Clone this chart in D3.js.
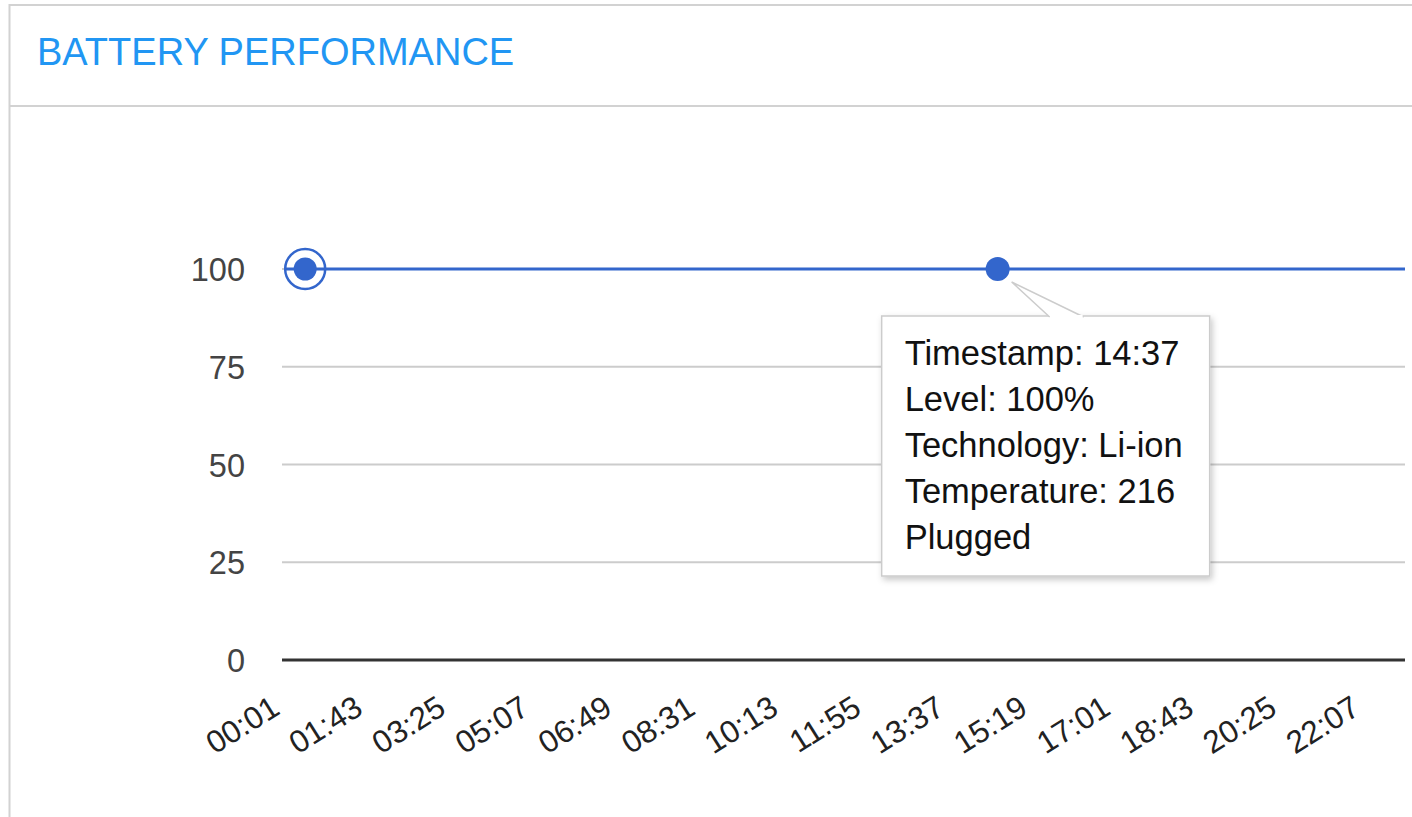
<!DOCTYPE html>
<html>
<head>
<meta charset="utf-8">
<title>Battery Performance</title>
<script src="https://cdn.jsdelivr.net/npm/d3@7"></script>
<style>
  html, body { margin: 0; padding: 0; background: #fff; }
  svg { display: block; font-family: "Liberation Sans", Arial, Helvetica, sans-serif; }
</style>
</head>
<body>
<svg id="chart" width="1412" height="817"></svg>
<script>
// Battery readings over the day (timestamp, level in %)
const timestamps = ["00:01", "00:27", "02:10", "04:45", "07:20", "09:58", "12:31", "14:37", "16:52", "19:14", "21:03", "22:57"];
const levels     = [100, 100, 100, 100, 100, 100, 100, 100, 100, 100, 100, 100];

// Axis tick labels
const xTickLabels = ["00:01", "01:43", "03:25", "05:07", "06:49", "08:31", "10:13", "11:55", "13:37", "15:19", "17:01", "18:43", "20:25", "22:07"];
const yTickValues = [0, 25, 50, 75, 100];

// Highlighted readings
const selectedTime = "00:27";
const hoverTime = "14:37";
const hoverInfo = { technology: "Li-ion", temperature: 216, status: "Plugged" };

const toMin = s => { const [h, m] = s.split(":").map(Number); return h * 60 + m; };
const data = timestamps.map((t, i) => ({ t, m: toMin(t), v: levels[i] }));

const svg = d3.select("#chart");
const W = 1412, H = 817;

// Panel frame
const frame = svg.append("g");
frame.append("line").attr("x1", 9.5).attr("x2", 9.5).attr("y1", 4).attr("y2", H)
  .attr("stroke", "#d2d2d2").attr("stroke-width", 2);
frame.append("line").attr("x1", 9).attr("x2", W).attr("y1", 5).attr("y2", 5)
  .attr("stroke", "#d2d2d2").attr("stroke-width", 2);
frame.append("line").attr("x1", 9).attr("x2", W).attr("y1", 106).attr("y2", 106)
  .attr("stroke", "#d2d2d2").attr("stroke-width", 2);

svg.append("text")
  .attr("x", 37).attr("y", 65)
  .attr("font-size", 38)
  .attr("fill", "#2196f3")
  .text("BATTERY PERFORMANCE");

// Scales
const plot = { left: 284, right: 1405, top: 269, bottom: 660 };
const x = d3.scaleLinear()
  .domain([toMin(timestamps[0]), toMin(timestamps[timestamps.length - 1])])
  .range([plot.left, plot.right]);
const y = d3.scaleLinear().domain([0, 100]).range([plot.bottom, plot.top]);

// Gridlines
svg.append("g").selectAll("line")
  .data(yTickValues.filter(v => v !== 0))
  .join("line")
  .attr("x1", plot.left - 2).attr("x2", plot.right)
  .attr("y1", d => y(d)).attr("y2", d => y(d))
  .attr("stroke", "#cccccc").attr("stroke-width", 2);

// Y axis labels
const yAxis = d3.axisLeft(y).tickValues(yTickValues).tickSize(0).tickPadding(0);
const yg = svg.append("g").attr("transform", `translate(245,0)`).call(yAxis);
yg.select(".domain").remove();
yg.selectAll("text")
  .attr("font-size", 32.5)
  .attr("font-family", "Liberation Sans, Arial, sans-serif")
  .attr("fill", "#444")
  .attr("dy", "0.36em");

// Baseline
svg.append("line")
  .attr("x1", plot.left - 2).attr("x2", plot.right)
  .attr("y1", y(0)).attr("y2", y(0))
  .attr("stroke", "#333").attr("stroke-width", 3);

// X axis labels (slanted)
const xAxis = d3.axisBottom(x).tickValues(xTickLabels.map(toMin))
  .tickFormat((d, i) => xTickLabels[i]).tickSize(0).tickPadding(0);
const xg = svg.append("g").attr("transform", `translate(0,${y(0)})`).call(xAxis);
xg.select(".domain").remove();
xg.selectAll("text")
  .attr("font-size", 31.5)
  .attr("font-family", "Liberation Sans, Arial, sans-serif")
  .attr("fill", "#222")
  .attr("text-anchor", "end")
  .attr("dy", 0)
  .attr("y", 0)
  .attr("transform", "translate(-3,53) rotate(-32)");

// Line
const line = d3.line().x(d => x(d.m)).y(d => y(d.v));
svg.append("path").datum(data)
  .attr("d", line)
  .attr("fill", "none")
  .attr("stroke", "#3366cc")
  .attr("stroke-width", 3.2);

// Selected point
const sel = data.find(d => d.t === selectedTime);
svg.append("circle").attr("cx", x(sel.m)).attr("cy", y(sel.v)).attr("r", 20)
  .attr("fill", "none").attr("stroke", "#3366cc").attr("stroke-width", 2.5);
svg.append("circle").attr("cx", x(sel.m)).attr("cy", y(sel.v)).attr("r", 11.5)
  .attr("fill", "#3366cc");

// Hovered point
const hov = data.find(d => d.t === hoverTime);
const hx = x(hov.m), hy = y(hov.v);
svg.append("circle").attr("cx", hx).attr("cy", hy).attr("r", 12)
  .attr("fill", "#3366cc");

// Tooltip
const defs = svg.append("defs");
const f = defs.append("filter").attr("id", "shadow").attr("x", "-10%").attr("y", "-10%").attr("width", "130%").attr("height", "130%");
f.append("feDropShadow").attr("dx", 2).attr("dy", 3).attr("stdDeviation", 3).attr("flood-color", "#000").attr("flood-opacity", 0.22);

const tip = svg.append("g");
const bx = hx - 116, by = hy + 47, bw = 328, bh = 260;
tip.append("rect").attr("x", bx).attr("y", by).attr("width", bw).attr("height", bh)
  .attr("fill", "#fff").attr("stroke", "#cccccc").attr("stroke-width", 1.5)
  .attr("filter", "url(#shadow)");
// Pointer
tip.append("path")
  .attr("d", `M${hx + 52},${by + 1} L${hx + 14},${hy + 13} L${hx + 86},${by + 1}`)
  .attr("fill", "#fff").attr("stroke", "#cccccc").attr("stroke-width", 1.5);
tip.append("line").attr("x1", hx + 53).attr("x2", hx + 85).attr("y1", by + 0.5).attr("y2", by + 0.5)
  .attr("stroke", "#fff").attr("stroke-width", 3);

const tipLines = [
  `Timestamp: ${hov.t}`,
  `Level: ${hov.v}%`,
  `Technology: ${hoverInfo.technology}`,
  `Temperature: ${hoverInfo.temperature}`,
  hoverInfo.status
];
tip.selectAll("text.tl").data(tipLines).join("text")
  .attr("class", "tl")
  .attr("x", bx + 23)
  .attr("y", (d, i) => by + 49 + i * 46)
  .attr("font-size", 34.5)
  .attr("fill", "#111")
  .text(d => d);
</script>
</body>
</html>
